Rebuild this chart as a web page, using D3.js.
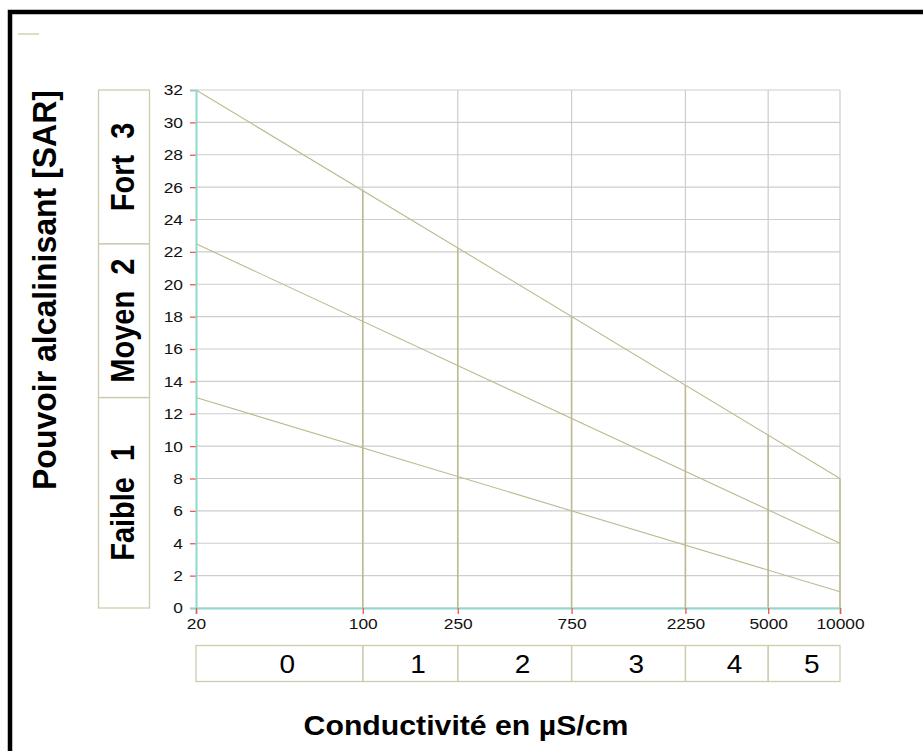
<!DOCTYPE html>
<html>
<head>
<meta charset="utf-8">
<script src="https://cdn.jsdelivr.net/npm/d3@7"></script>
<style>
  html, body { margin: 0; padding: 0; background: #fff; }
  svg { display: block; font-family: "Liberation Sans", Arial, sans-serif; }
</style>
</head>
<body>
<svg id="chart" width="923" height="751"></svg>
<script>
// Conductivity class limits (µS/cm) and the class numbers between them
const conductivityTicks = [20, 100, 250, 750, 2250, 5000, 10000];
const conductivityClasses = ["0", "1", "2", "3", "4", "5"];

// SAR ticks
const sarTicks = [0, 2, 4, 6, 8, 10, 12, 14, 16, 18, 20, 22, 24, 26, 28, 30, 32];

// Boundary lines: SAR at 20 µS/cm and at 10000 µS/cm
const boundaryStart = [32, 22.5, 13];
const boundaryEnd = [8, 4, 1];

// Alkalinity hazard bands along the SAR axis
const hazardLabels = ["Faible  1", "Moyen  2", "Fort  3"];
const hazardLimits = [0, 13, 22.5, 32];

const svg = d3.select("#chart");
const W = 923, H = 751;
const sx = 1.12; // horizontal stretch of lettering

const olive = "#bdb98e";
const boxStroke = "#cfccae";
const gridCol = "#cdcdcd";
const axisCol = "#8fd8d0";
const tickCol = "#ff5050";

const x = d3.scaleLog().domain([20, 10000]).range([196, 840]);
const y = d3.scaleLinear().domain([0, 32]).range([608, 90]);

// outer frame
svg.append("rect")
  .attr("x", 10).attr("y", 12)
  .attr("width", W + 20).attr("height", H + 20)
  .attr("fill", "none").attr("stroke", "#000").attr("stroke-width", 4.5);

// legend stub
svg.append("line")
  .attr("x1", 18).attr("x2", 39).attr("y1", 34).attr("y2", 34)
  .attr("stroke", "#d3d0ad").attr("stroke-width", 1.5);

// horizontal grid
svg.append("g").selectAll("line").data(sarTicks).join("line")
  .attr("x1", x(20)).attr("x2", x(10000))
  .attr("y1", d => y(d)).attr("y2", d => y(d))
  .attr("stroke", gridCol).attr("stroke-width", 1.2);

// vertical grid
svg.append("g").selectAll("line").data(conductivityTicks.slice(1)).join("line")
  .attr("x1", d => x(d)).attr("x2", d => x(d))
  .attr("y1", y(32)).attr("y2", y(0))
  .attr("stroke", gridCol).attr("stroke-width", 1.2);

// upper boundary in screen space, used to stop the class verticals
const topLine = boundaryStart.map((s, i) => ({ s, e: boundaryEnd[i] }));
const upperAt = v => {
  const t = (x(v) - x(20)) / (x(10000) - x(20));
  return y(topLine[0].s) + t * (y(topLine[0].e) - y(topLine[0].s));
};

// class verticals
svg.append("g").selectAll("line").data(conductivityTicks.slice(1)).join("line")
  .attr("x1", d => x(d)).attr("x2", d => x(d))
  .attr("y1", d => upperAt(d)).attr("y2", y(0))
  .attr("stroke", olive).attr("stroke-width", 1.5);

// boundary lines
svg.append("g").selectAll("line").data(topLine).join("line")
  .attr("x1", x(20)).attr("x2", x(10000))
  .attr("y1", d => y(d.s)).attr("y2", d => y(d.e))
  .attr("stroke", olive).attr("stroke-width", 1.1);

// axes
const yAxis = svg.append("g").attr("transform", `translate(${x(20)},0)`)
  .call(d3.axisLeft(y).tickValues(sarTicks).tickSize(6).tickPadding(7).tickFormat(d3.format("d")));
const xAxis = svg.append("g").attr("transform", `translate(0,${y(0)})`)
  .call(d3.axisBottom(x).tickValues(conductivityTicks).tickSize(6).tickPadding(4).tickFormat(d3.format("d")));
[yAxis, xAxis].forEach(a => {
  a.select(".domain").attr("stroke", axisCol).attr("stroke-width", 2);
  a.selectAll(".tick line").attr("stroke", tickCol).attr("stroke-width", 1.3);
  a.selectAll(".tick text").attr("fill", "#111").attr("font-size", 15.5)
    .attr("font-family", "Liberation Sans, Arial, sans-serif");
});
yAxis.selectAll(".tick text")
  .attr("transform", function () {
    const tx = +d3.select(this).attr("x");
    return `translate(${tx},0) scale(${sx},1) translate(${-tx},0)`;
  });
xAxis.selectAll(".tick text")
  .attr("transform", `scale(${sx},1)`);
yAxis.select(".domain").raise();

// hazard band boxes on the left
const bands = hazardLabels.map((l, i) => ({ l, a: hazardLimits[i], b: hazardLimits[i + 1] }));
const bandG = svg.append("g");
bandG.selectAll("rect").data(bands).join("rect")
  .attr("x", 98.5).attr("width", 51)
  .attr("y", d => y(d.b)).attr("height", d => y(d.a) - y(d.b))
  .attr("fill", "none").attr("stroke", boxStroke).attr("stroke-width", 1.3);
bandG.selectAll("text").data(bands).join("text")
  .attr("transform", d => `translate(134,${(y(d.a) + y(d.b)) / 2}) scale(${sx},1) rotate(-90)`)
  .attr("text-anchor", "middle")
  .attr("font-size", 29).attr("font-weight", "bold").attr("fill", "#000")
  .style("white-space", "pre")
  .text(d => d.l);

// conductivity class boxes below the axis
const classes = conductivityClasses.map((c, i) => ({ c, a: conductivityTicks[i], b: conductivityTicks[i + 1] }));
const clsG = svg.append("g");
clsG.selectAll("rect").data(classes).join("rect")
  .attr("x", d => x(d.a)).attr("width", d => x(d.b) - x(d.a))
  .attr("y", 645.5).attr("height", 36)
  .attr("fill", "none").attr("stroke", boxStroke).attr("stroke-width", 1.3);
clsG.selectAll("text").data(classes).join("text")
  .attr("transform", d => `translate(${(x(d.a) + x(d.b)) / 2},673) scale(${sx},1)`)
  .attr("text-anchor", "start")
  .attr("font-size", 25).attr("fill", "#000")
  .text(d => d.c);

// axis titles
svg.append("text")
  .attr("transform", `translate(56,290) scale(1.02,1) rotate(-90)`)
  .attr("text-anchor", "middle")
  .attr("font-size", 32).attr("font-weight", "bold").attr("fill", "#000")
  .text("Pouvoir alcalinisant [SAR]");
svg.append("text")
  .attr("transform", `translate(466,735) scale(${sx},1)`)
  .attr("text-anchor", "middle")
  .attr("font-size", 27).attr("font-weight", "bold").attr("fill", "#000")
  .text("Conductivité en µS/cm");
</script>
</body>
</html>
